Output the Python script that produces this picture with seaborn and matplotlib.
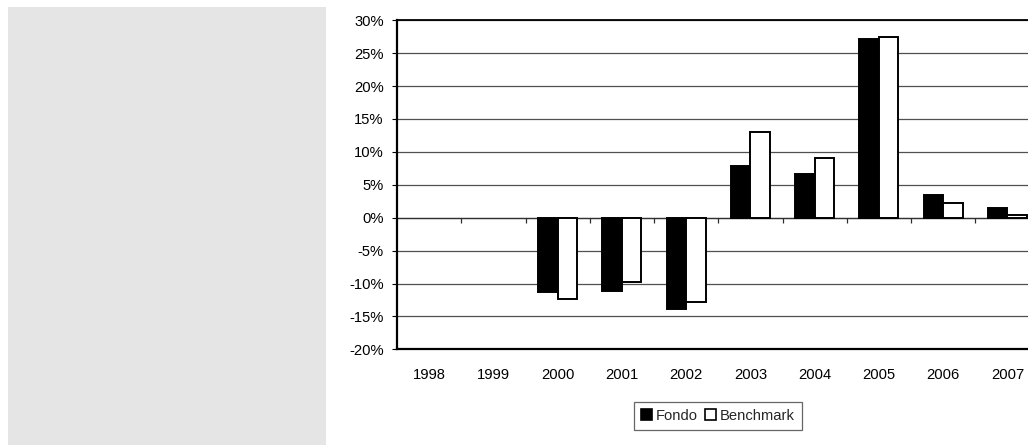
import numpy as np
import pandas as pd
import matplotlib
matplotlib.use("Agg")
import matplotlib.pyplot as plt
from matplotlib.patches import Rectangle, Patch
from matplotlib.ticker import FuncFormatter
import seaborn as sns

# Annual returns (%) of the fund and its benchmark
years = ["1998", "1999", "2000", "2001", "2002", "2003", "2004", "2005", "2006", "2007"]
fondo = [np.nan, np.nan, -11.3, -11.2, -13.8, 7.9, 6.6, 27.1, 3.5, 1.5]
benchmark = [np.nan, np.nan, -12.3, -9.8, -12.8, 13.1, 9.1, 27.5, 2.2, 0.4]
series_names = ["Fondo", "Benchmark"]
series_colors = {"Fondo": "#000000", "Benchmark": "#ffffff"}
y_ticks = [-20, -15, -10, -5, 0, 5, 10, 15, 20, 25, 30]

df = pd.DataFrame({
    "Anno": years * 2,
    "Serie": [series_names[0]] * len(years) + [series_names[1]] * len(years),
    "Rendimento": fondo + benchmark,
})

sns.set_style("white")
plt.rcParams["font.family"] = ["Liberation Sans", "DejaVu Sans"]
plt.rcParams["axes.unicode_minus"] = False

FS = 10.6
W, H = 1028, 445
fig = plt.figure(figsize=(W / 100, H / 100), dpi=100)

# grey side panel
fig.patches.append(Rectangle((8 / W, 0), 318 / W, (H - 7) / H,
                             transform=fig.transFigure, facecolor="#e5e5e5",
                             edgecolor="none", zorder=0))

left, right, top, bottom = 397, 1039.5, 20.3, 349.3
ax = fig.add_axes([left / W, (H - bottom) / H, (right - left) / W, (bottom - top) / H])

sns.barplot(data=df, x="Anno", y="Rendimento", hue="Serie", order=years,
            hue_order=series_names, palette=series_colors, width=0.61,
            edgecolor="black", linewidth=1.4, errorbar=None, ax=ax, legend=False,
            zorder=3)

ax.set_ylim(-20, 30)
ax.set_xlim(-0.5, len(years) - 0.5)
ax.set_yticks(y_ticks)
ax.yaxis.set_major_formatter(FuncFormatter(lambda v, p: f"{v:.0f}%"))
ax.set_xlabel("")
ax.set_ylabel("")
ax.set_facecolor("white")

# horizontal gridlines
ax.set_axisbelow(True)
ax.yaxis.grid(True, color="#505050", linewidth=0.9)
ax.xaxis.grid(False)

for s in ["left", "top", "bottom"]:
    ax.spines[s].set_visible(True)
    ax.spines[s].set_color("black")
ax.spines["left"].set_linewidth(1.6)
ax.spines["bottom"].set_linewidth(1.6)
ax.spines["top"].set_linewidth(1.3)
ax.spines["right"].set_visible(False)

ax.tick_params(axis="y", which="major", left=True, length=3.5, width=0.8,
               color="black", pad=6, labelsize=FS, labelcolor="black")
ax.tick_params(axis="x", which="major", bottom=False, length=0, pad=13.5,
               labelsize=FS, labelcolor="black")

# category separators hanging from the zero line
sep = np.arange(len(years)) + 0.5
ax.vlines(sep, -0.75, 0, color="#303030", linewidth=0.9, zorder=2)
ax.axhline(0, color="#303030", linewidth=0.9, zorder=2)

handles = [Patch(facecolor=series_colors[n], edgecolor="black", linewidth=1.2, label=n)
           for n in series_names]
leg = fig.legend(handles=handles, loc="center", bbox_to_anchor=(718 / W, (H - 416) / H),
                 ncol=2, frameon=True, fancybox=False, fontsize=FS,
                 handlelength=0.75, handleheight=0.75, handletextpad=0.25,
                 columnspacing=0.5, borderpad=0.45, borderaxespad=0)
leg.get_frame().set_edgecolor("#404040")
leg.get_frame().set_linewidth(0.9)

fig.savefig("out.png", dpi=100, facecolor="white")
